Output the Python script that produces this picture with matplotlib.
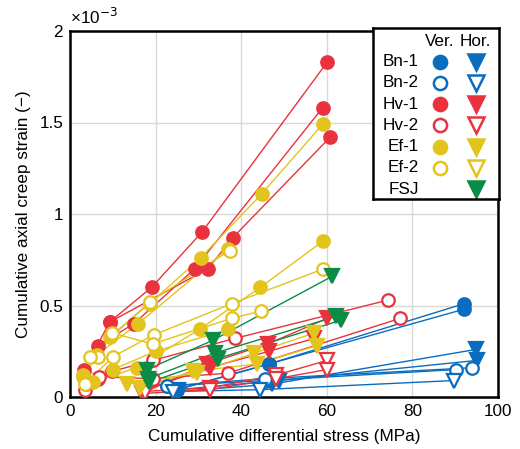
import matplotlib
matplotlib.use("Agg")
import matplotlib.pyplot as plt
from matplotlib.ticker import MultipleLocator, FormatStrFormatter

plt.rcParams['font.family'] = ['Liberation Sans', 'DejaVu Sans']

# ---- data: each sample = list of (cumulative differential stress [MPa], cumulative axial creep strain [x1e-3])
bn1_ver = [
    [(25.0, 0.04), (46.4, 0.18), (92.1, 0.51)],
    [(25.0, 0.04), (46.4, 0.18), (92.1, 0.48)],
]
bn1_hor = [
    [(25.2, 0.03), (47.1, 0.07), (94.9, 0.26)],
    [(25.2, 0.04), (48.9, 0.09), (95.1, 0.20)],
]
bn2_ver = [
    [(22.6, 0.06), (45.5, 0.09), (90.2, 0.15)],
    [(22.6, 0.06), (45.5, 0.10), (94.0, 0.16)],
]
bn2_hor = [
    [(24.0, 0.03), (44.3, 0.04), (89.7, 0.09)],
]
hv1_ver = [
    [(3.3, 0.15), (9.3, 0.41), (19.1, 0.60), (30.8, 0.90), (60.1, 1.83)],
    [(6.5, 0.28), (14.9, 0.40), (29.1, 0.70), (59.0, 1.58)],
    [(9.3, 0.41), (32.2, 0.70), (38.0, 0.87), (60.8, 1.42)],
]
hv1_hor = [
    [(16.8, 0.02), (31.9, 0.18), (46.2, 0.29), (60.1, 0.43)],
    [(17.5, 0.04), (32.6, 0.16), (46.5, 0.25), (57.1, 0.32)],
]
hv2_ver = [
    [(3.5, 0.04), (6.5, 0.10), (9.8, 0.14), (19.3, 0.20), (38.5, 0.32), (74.4, 0.53)],
    [(3.7, 0.07), (6.8, 0.11), (19.3, 0.10), (36.9, 0.13), (77.2, 0.43)],
]
hv2_hor = [
    [(17.0, 0.03), (32.6, 0.05), (48.2, 0.12), (60.1, 0.20)],
    [(17.5, 0.02), (32.6, 0.04), (48.2, 0.10), (60.1, 0.15)],
]
ef1_ver = [
    [(3.1, 0.11), (9.3, 0.33), (18.6, 0.51), (30.5, 0.76), (44.8, 1.11), (59.0, 1.49)],
    [(6.3, 0.23), (15.9, 0.40), (36.8, 0.81)],
    [(5.4, 0.08), (15.6, 0.16), (30.3, 0.37), (44.5, 0.60), (59.0, 0.85)],
    [(3.0, 0.12), (10.0, 0.15), (20.0, 0.25), (37.0, 0.37)],
]
ef1_hor = [
    [(13.3, 0.07), (29.6, 0.13), (43.1, 0.24), (57.1, 0.35)],
    [(16.3, 0.05), (28.7, 0.14), (43.6, 0.18), (57.6, 0.28)],
]
ef2_ver = [
    [(3.5, 0.07), (10.0, 0.22), (19.6, 0.34), (37.8, 0.51), (59.2, 0.70)],
    [(6.5, 0.22), (9.8, 0.35), (19.3, 0.29), (37.8, 0.43), (44.7, 0.47)],
    [(4.7, 0.22), (18.6, 0.52), (37.3, 0.80)],
]
ef2_hor = []
fsj_hor = [
    [(18.0, 0.15), (33.4, 0.31), (61.3, 0.66)],
    [(18.2, 0.10), (33.8, 0.24), (62.2, 0.44)],
    [(18.5, 0.08), (34.5, 0.21), (63.4, 0.42)],
]

names = ["Bn-1", "Bn-2", "Hv-1", "Hv-2", "Ef-1", "Ef-2", "FSJ"]
ver_data = [bn1_ver, bn2_ver, hv1_ver, hv2_ver, ef1_ver, ef2_ver, None]
hor_data = [bn1_hor, bn2_hor, hv1_hor, hv2_hor, ef1_hor, ef2_hor, fsj_hor]

BLUE = "#0A6CBE"
RED = "#E8323E"
YEL = "#E2C41C"
GRN = "#0A8C46"
colors = [BLUE, BLUE, RED, RED, YEL, YEL, GRN]
filled = [True, False, True, False, True, False, True]

FS = 12.3

fig = plt.figure(figsize=(5.2, 4.49), dpi=100)
ax = fig.add_axes([70/520, 1 - 397/449, 428/520, 366/449])

def draw(samples, marker, color, fill, size):
    if not samples:
        return
    for s in samples:
        xs = [p[0] for p in s]
        ys = [p[1] for p in s]
        ax.plot(xs, ys, '-', color=color, lw=1.0, zorder=2)
        ax.plot(xs, ys, linestyle='none', marker=marker, markersize=size,
                markerfacecolor=color if fill else 'white',
                markeredgecolor=color, markeredgewidth=1.6, zorder=3)

for vd, hd, c, f in zip(ver_data, hor_data, colors, filled):
    draw(vd, 'o', c, f, 9)
    draw(hd, 'v', c, f, 10.5)

ax.set_xlim(0, 100)
ax.set_ylim(0, 2)
ax.xaxis.set_major_locator(MultipleLocator(20))
ax.yaxis.set_major_locator(MultipleLocator(0.5))
ax.yaxis.set_major_formatter(FormatStrFormatter('%g'))
ax.grid(True, color='#d8d8d8', lw=1.0, zorder=0)
ax.set_axisbelow(True)
ax.tick_params(length=0, labelsize=FS, pad=5)
for sp in ax.spines.values():
    sp.set_linewidth(1.8)
ax.set_xlabel("Cumulative differential stress (MPa)", fontsize=FS, labelpad=7)
ax.set_ylabel("Cumulative axial creep strain (\u2212)", fontsize=FS, labelpad=6)
ax.text(0.0, 1.012, "\u00d710$^{-3}$", transform=ax.transAxes, ha='left', va='bottom',
        fontsize=FS)

# ---- legend drawn as a boxed table
lax = fig.add_axes([373/520, 1 - 199/449, 126/520, 171/449])
lax.set_xlim(0, 126)
lax.set_ylim(171, 0)
lax.set_xticks([])
lax.set_yticks([])
lax.set_facecolor('white')
for sp in lax.spines.values():
    sp.set_linewidth(1.8)
lax.text(67, 13, "Ver.", ha='center', va='center', fontsize=FS)
lax.text(102, 13, "Hor.", ha='center', va='center', fontsize=FS)
for i, (n, c, f, vd) in enumerate(zip(names, colors, filled, ver_data)):
    yy = 33.5 + i * 21.3
    lax.text(46, yy, n, ha='right', va='center', fontsize=FS)
    if vd is not None:
        lax.plot([67], [yy], 'o', ms=9.5, mfc=c if f else 'white', mec=c, mew=1.8)
    lax.plot([103], [yy], 'v', ms=12, mfc=c if f else 'white', mec=c, mew=1.8)

fig.savefig("out.png", dpi=100)
